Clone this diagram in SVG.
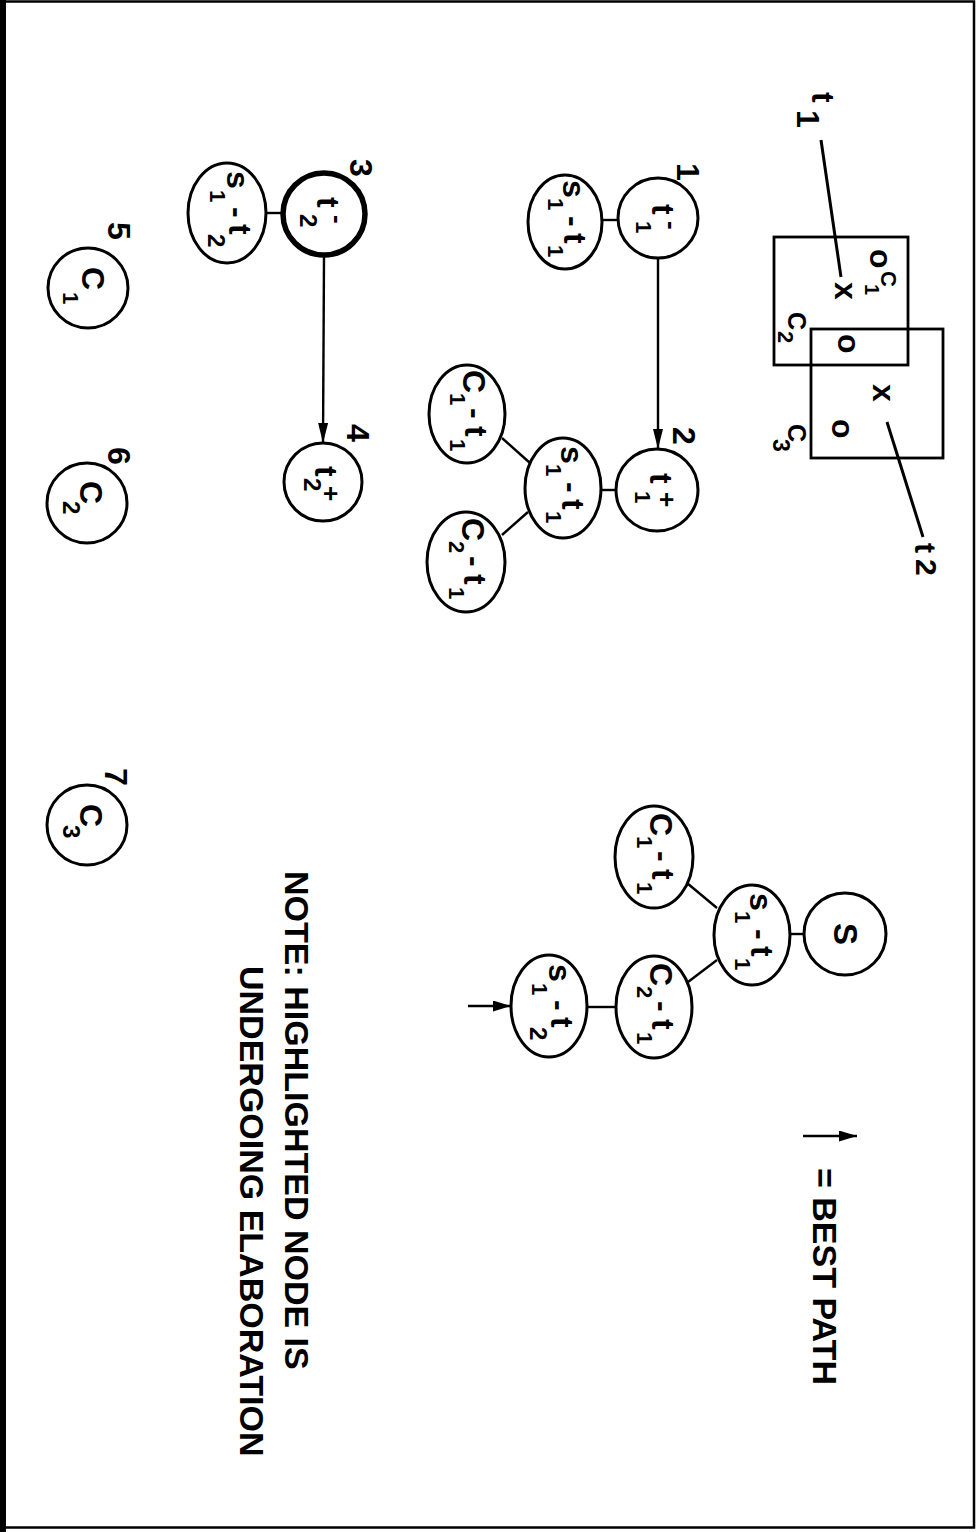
<svg xmlns="http://www.w3.org/2000/svg" width="979" height="1532" viewBox="0 0 979 1532">
<style>
.nd{fill:#fff;stroke:#000;stroke-width:3}
.hl{stroke-width:5.5}
.ln{stroke:#000;stroke-width:2.4;fill:none}
.bx{stroke:#000;stroke-width:2.8;fill:none}
.lb{font-family:"Liberation Sans",Arial,sans-serif;font-weight:bold;font-size:32px;fill:#000}
.sb{font-size:22px}
.sb2{font-size:24px}
.sp{font-size:26px}
.tx{font-family:"Liberation Sans",Arial,sans-serif;font-weight:bold;font-size:34px;fill:#000}
</style>
<defs>
<marker id="ah" viewBox="0 0 20 10" refX="20" refY="5" markerWidth="20" markerHeight="10" orient="auto" markerUnits="userSpaceOnUse"><path d="M0,0 L20,5 L0,10 z" fill="#000"/></marker>
<marker id="ah2" viewBox="0 0 18 11" refX="18" refY="5.5" markerWidth="18" markerHeight="11" orient="auto" markerUnits="userSpaceOnUse"><path d="M0,0 L18,5.5 L0,11 z" fill="#000"/></marker>
</defs>
<rect width="979" height="1532" fill="#fff"/>
<g id="frame">
<rect x="2" y="1.5" width="972" height="1526" fill="none" stroke="#000" stroke-width="2.5"/>
<line x1="3" y1="0" x2="3" y2="1532" stroke="#000" stroke-width="6"/>
</g>

<g id="sketch">
<rect class="bx" x="774" y="237" width="134" height="128"/>
<rect class="bx" x="811" y="329" width="132" height="129"/>
<line x1="821" y1="140" x2="841" y2="277" stroke="#000" stroke-width="3"/>
<line x1="887" y1="422" x2="923" y2="537" stroke="#000" stroke-width="3"/>
<text class="lb" transform="translate(812,92) rotate(90)">t</text>
<text class="lb" transform="translate(797,110) rotate(90)">1</text>
<text class="lb" style="font-size:30px" transform="translate(915,543) rotate(90)">t</text>
<text class="lb" style="font-size:30px" transform="translate(916,559) rotate(90)">2</text>
<text class="lb" transform="translate(835,282) rotate(90)">x</text>
<text class="lb" transform="translate(870,249) rotate(90)">o</text>
<text class="lb" style="font-size:22px" transform="translate(881,271) rotate(90)">C</text>
<text class="lb" style="font-size:20px" transform="translate(865,284) rotate(90)">1</text>
<text class="lb" style="font-size:25px" transform="translate(788,312) rotate(90)">C</text>
<text class="lb" style="font-size:22px" transform="translate(778,331) rotate(90)">2</text>
<text class="lb" transform="translate(838,334) rotate(90)">o</text>
<text class="lb" transform="translate(873,384) rotate(90)">x</text>
<text class="lb" transform="translate(832,419) rotate(90)">o</text>
<text class="lb" style="font-size:25px" transform="translate(788,424) rotate(90)">C</text>
<text class="lb" style="font-size:23px" transform="translate(773,439) rotate(90)">3</text>
</g>

<g id="connectors">
<line class="ln" x1="602" y1="220" x2="618" y2="220"/>
<line class="ln" x1="658" y1="258" x2="658" y2="449" marker-end="url(#ah)"/>
<line class="ln" x1="601" y1="490" x2="616" y2="490"/>
<line class="ln" x1="530" y1="463" x2="502" y2="438"/>
<line class="ln" x1="528" y1="512" x2="502" y2="535"/>
<line class="ln" x1="266" y1="213" x2="283" y2="213"/>
<line class="ln" x1="324" y1="257" x2="323" y2="443" marker-end="url(#ah)"/>
<line class="ln" x1="790" y1="934" x2="804" y2="934"/>
<line class="ln" x1="717" y1="908" x2="687" y2="883"/>
<line class="ln" x1="717" y1="960" x2="688" y2="982"/>
<line class="ln" x1="587" y1="1007" x2="616" y2="1007"/>
<line class="ln" x1="468" y1="1006" x2="511" y2="1006" stroke-width="2.8" marker-end="url(#ah2)"/>
</g>

<g id="n1">
<circle class="nd" cx="658" cy="218" r="40"/>
<g transform="translate(658,218) rotate(90)"><text class="lb"><tspan x="-14" y="6">t</tspan><tspan class="sb" x="3" y="22">1</tspan><tspan class="sp" x="3" y="-5">-</tspan></text></g>
<text class="lb" text-anchor="middle" transform="translate(677,172) rotate(90)">1</text>
</g>
<g id="n1s">
<ellipse class="nd" cx="565" cy="222" rx="37" ry="47"/>
<g transform="translate(565,222) rotate(90)"><text class="lb"><tspan x="-42" y="2">s</tspan><tspan class="sb" x="-24" y="17">1</tspan><tspan x="-6" y="2">-</tspan><tspan x="11" y="1">t</tspan><tspan class="sb" x="23" y="17">1</tspan></text></g>
</g>

<g id="n2">
<circle class="nd" cx="657" cy="490" r="41"/>
<g transform="translate(657,490) rotate(90)"><text class="lb"><tspan x="-17" y="7">t</tspan><tspan class="sb" x="1" y="22">1</tspan><tspan class="sp" x="2" y="-1">+</tspan></text></g>
<text class="lb" text-anchor="middle" transform="translate(673,436) rotate(90)">2</text>
</g>
<g id="n2s">
<ellipse class="nd" cx="563" cy="488" rx="38" ry="50"/>
<g transform="translate(563,488) rotate(90)"><text class="lb"><tspan x="-42" y="2">s</tspan><tspan class="sb" x="-24" y="17">1</tspan><tspan x="-6" y="2">-</tspan><tspan x="11" y="1">t</tspan><tspan class="sb" x="23" y="17">1</tspan></text></g>
</g>
<g id="n2c1">
<ellipse class="nd" cx="467" cy="414" rx="38" ry="49"/>
<g transform="translate(467,414) rotate(90)"><text class="lb"><tspan x="-44" y="4">C</tspan><tspan class="sb" x="-21" y="17">1</tspan><tspan x="-6" y="2">-</tspan><tspan x="12" y="2">t</tspan><tspan class="sb" x="25" y="17">1</tspan></text></g>
</g>
<g id="n2c2">
<ellipse class="nd" cx="466" cy="562" rx="39" ry="50"/>
<g transform="translate(466,562) rotate(90)"><text class="lb"><tspan x="-44" y="4">C</tspan><tspan class="sb" x="-21" y="17">2</tspan><tspan x="-6" y="2">-</tspan><tspan x="12" y="2">t</tspan><tspan class="sb" x="25" y="17">1</tspan></text></g>
</g>

<g id="n3">
<circle class="nd hl" cx="324" cy="214" r="41"/>
<g transform="translate(324,214) rotate(90)"><text class="lb"><tspan x="-17" y="7">t</tspan><tspan class="sb2" x="0" y="24">2</tspan><tspan class="sp" x="1" y="-5">-</tspan></text></g>
<text class="lb" text-anchor="middle" transform="translate(350,168) rotate(90)">3</text>
</g>
<g id="n3s">
<ellipse class="nd" cx="227" cy="213" rx="39" ry="50"/>
<g transform="translate(227,213) rotate(90)"><text class="lb"><tspan x="-42" y="0">s</tspan><tspan class="sb" x="-23" y="17">1</tspan><tspan x="-6" y="0">-</tspan><tspan x="11" y="-2">t</tspan><tspan class="sb2" x="21" y="19">2</tspan></text></g>
</g>

<g id="n4">
<circle class="nd" cx="323" cy="482" r="39"/>
<g transform="translate(323,482) rotate(90)"><text class="lb"><tspan x="-16" y="8">t</tspan><tspan class="sb2" x="-4" y="19">2</tspan><tspan class="sp" x="4" y="1">+</tspan></text></g>
<text class="lb" text-anchor="middle" transform="translate(347,433) rotate(90)">4</text>
</g>

<g id="n5">
<circle class="nd" cx="88" cy="288" r="40"/>
<g transform="translate(88,288) rotate(90)"><text class="lb"><tspan x="-21" y="6">C</tspan><tspan class="sb" x="4" y="25">1</tspan></text></g>
<text class="lb" text-anchor="middle" transform="translate(108,231) rotate(90)">5</text>
</g>
<g id="n6">
<circle class="nd" cx="87" cy="503" r="40"/>
<g transform="translate(87,503) rotate(90)"><text class="lb"><tspan x="-22" y="7">C</tspan><tspan class="sb2" x="-2" y="24">2</tspan></text></g>
<text class="lb" text-anchor="middle" transform="translate(108,456) rotate(90)">6</text>
</g>
<g id="n7">
<circle class="nd" cx="87" cy="825" r="40"/>
<g transform="translate(87,825) rotate(90)"><text class="lb"><tspan x="-21" y="7">C</tspan><tspan class="sb2" x="0" y="24">3</tspan></text></g>
<text class="lb" text-anchor="middle" transform="translate(105,777) rotate(90)">7</text>
</g>

<g id="rS">
<circle class="nd" cx="845" cy="934" r="41"/>
<g transform="translate(845,934) rotate(90)"><text class="lb" style="font-size:33px"><tspan x="-11" y="11">S</tspan></text></g>
</g>
<g id="r1">
<ellipse class="nd" cx="752" cy="935" rx="38" ry="50"/>
<g transform="translate(752,935) rotate(90)"><text class="lb"><tspan x="-42" y="2">s</tspan><tspan class="sb" x="-24" y="17">1</tspan><tspan x="-6" y="2">-</tspan><tspan x="11" y="1">t</tspan><tspan class="sb" x="23" y="17">1</tspan></text></g>
</g>
<g id="r2">
<ellipse class="nd" cx="654" cy="857" rx="39" ry="51"/>
<g transform="translate(654,857) rotate(90)"><text class="lb"><tspan x="-44" y="4">C</tspan><tspan class="sb" x="-21" y="17">1</tspan><tspan x="-6" y="2">-</tspan><tspan x="12" y="2">t</tspan><tspan class="sb" x="25" y="17">1</tspan></text></g>
</g>
<g id="r3">
<ellipse class="nd" cx="654" cy="1007" rx="38" ry="51"/>
<g transform="translate(654,1007) rotate(90)"><text class="lb"><tspan x="-44" y="4">C</tspan><tspan class="sb" x="-21" y="17">2</tspan><tspan x="-6" y="2">-</tspan><tspan x="12" y="2">t</tspan><tspan class="sb" x="25" y="17">1</tspan></text></g>
</g>
<g id="r4">
<ellipse class="nd" cx="549" cy="1006" rx="38" ry="51"/>
<g transform="translate(549,1006) rotate(90)"><text class="lb"><tspan x="-42" y="0">s</tspan><tspan class="sb" x="-23" y="17">1</tspan><tspan x="-6" y="0">-</tspan><tspan x="11" y="-2">t</tspan><tspan class="sb2" x="21" y="19">2</tspan></text></g>
</g>

<g id="legend">
<line class="ln" x1="803" y1="1136" x2="857" y2="1136" stroke-width="2.8" marker-end="url(#ah2)"/>
<text class="tx" transform="translate(813,1168) rotate(90)">= BEST PATH</text>
</g>
<g id="note">
<text class="tx" transform="translate(285,871) rotate(90)">NOTE: HIGHLIGHTED NODE IS</text>
<text class="tx" transform="translate(240,966) rotate(90)">UNDERGOING ELABORATION</text>
</g>
</svg>
